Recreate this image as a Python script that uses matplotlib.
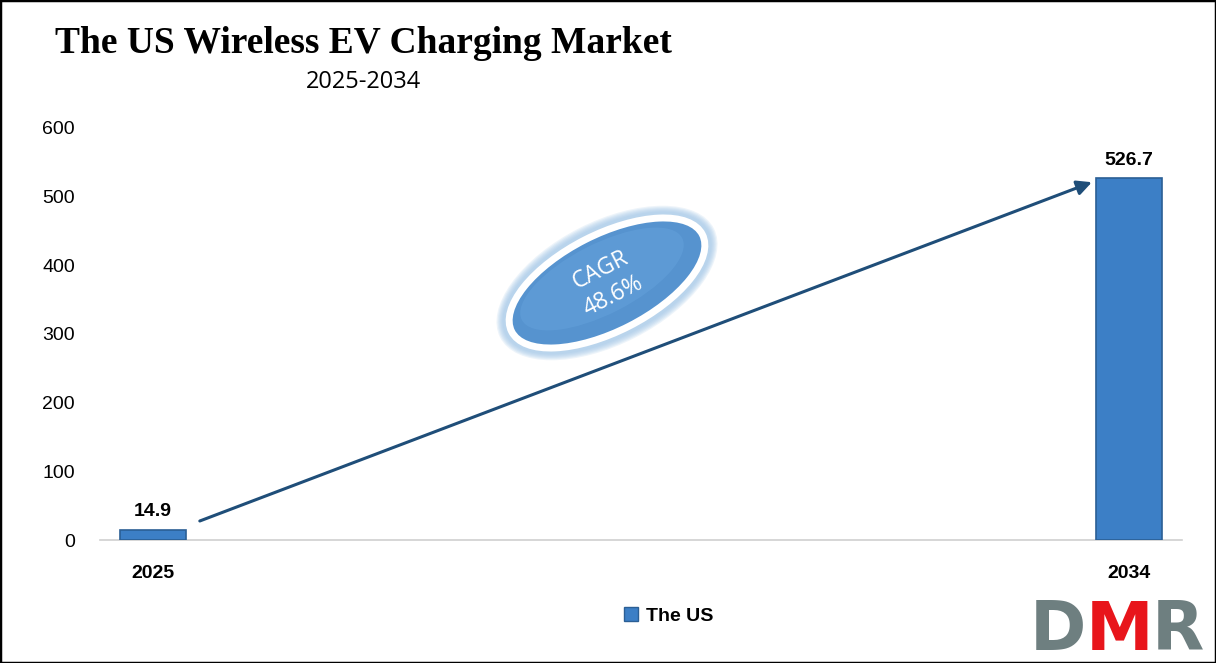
import matplotlib
matplotlib.use("Agg")
import matplotlib.pyplot as plt
from matplotlib.patches import Ellipse, Rectangle, Patch

years = ["2025", "2034"]
values = [14.9, 526.7]
value_labels = ["14.9", "526.7"]
series_name = "The US"
cagr_text = "CAGR\n48.6%"
yticks = [0, 100, 200, 300, 400, 500, 600]

plt.rcParams['font.family'] = ['Liberation Sans', 'DejaVu Sans']

fig = plt.figure(figsize=(12.16, 6.63), dpi=100)
ax = fig.add_axes([0.0822, 0.1855, 0.8898, 0.6215])

x = list(range(len(years)))
bars = ax.bar(x, values, width=0.067, color='#3C7FC6', edgecolor='#2B5F95',
              linewidth=1.2, label=series_name, zorder=3)

# value labels above bars
for xi, v, lab in zip(x, values, value_labels):
    ax.text(xi, v + 14, lab, ha='center', va='bottom', fontsize=14,
            fontweight='bold', color='black')

ax.set_xlim(-0.0543, 1.0543)
ax.set_ylim(0, 600)
ax.set_yticks(yticks)
ax.set_xticks(x)
ax.set_xticklabels(years, fontsize=14, fontweight='bold')
ax.tick_params(axis='y', length=0, labelsize=14, pad=18)
ax.tick_params(axis='x', length=0, pad=18)
for s in ['top', 'right', 'left']:
    ax.spines[s].set_visible(False)
ax.spines['bottom'].set_color('#d0d0d0')
ax.spines['bottom'].set_linewidth(1.2)

# growth arrow
ax.annotate('', xy=(0.962, 521), xytext=(0.048, 27.7),
            arrowprops=dict(arrowstyle='-|>', color='#1F4E79', lw=2.2,
                            mutation_scale=22, shrinkA=0, shrinkB=0),
            zorder=4)

# CAGR ellipse (in inches so it stays round)
cx, cy = 6.07, 6.63 - 2.83
ang = 27
# soft glow
for k in range(6):
    g = 0.07 - k * 0.012
    fig.add_artist(Ellipse((cx, cy), 2.16 + 2 * g + 0.1, 0.99 + 2 * g + 0.1,
                           angle=ang, transform=fig.dpi_scale_trans,
                           facecolor='#9dc3e6', edgecolor='none', alpha=0.18,
                           zorder=5))
ell = Ellipse((cx, cy), 2.14, 0.97, angle=ang, transform=fig.dpi_scale_trans,
              facecolor='#5693CF', edgecolor='white', linewidth=5, zorder=6)
fig.add_artist(ell)
inner = Ellipse((cx - 0.05, cy + 0.04), 1.8, 0.7, angle=ang,
                transform=fig.dpi_scale_trans, facecolor='#62A0DA',
                edgecolor='none', alpha=0.6, zorder=6)
fig.add_artist(inner)
fig.text(cx / 12.16, cy / 6.63, cagr_text, ha='center', va='center',
         rotation=ang, fontsize=16.5, color='white', linespacing=1.25,
         family=['Open Sans', 'DejaVu Sans'], zorder=7)

# titles
fig.text(0.299, 0.935, "The US Wireless EV Charging Market", ha='center',
         va='center', fontsize=27, fontweight='bold', family='Liberation Serif')
fig.text(0.299, 0.876, "2025-2034", ha='center', va='center', fontsize=17,
         family=['Open Sans', 'DejaVu Sans'])

# legend
handle = Patch(facecolor='#3C7FC6', edgecolor='#2B5F95')
fig.legend([handle], [series_name], loc='center', bbox_to_anchor=(0.55, 0.071),
           frameon=False, prop={'size': 14, 'weight': 'bold'},
           handlelength=0.7, handleheight=0.7, handletextpad=0.4)

# DMR logo
for ch, xpos, col in [("D", 0.847, '#6e7f80'), ("M", 0.893, '#e8151b'),
                      ("R", 0.947, '#6e7f80')]:
    fig.text(xpos, 0.02, ch, fontsize=49, fontweight='bold', color=col,
             ha='left', va='baseline', family='DejaVu Sans')

# outer border
fig.add_artist(Rectangle((0, 0), 1, 1, transform=fig.transFigure, fill=False,
                         edgecolor='black', linewidth=2.5))

fig.savefig("out.png", dpi=100)
